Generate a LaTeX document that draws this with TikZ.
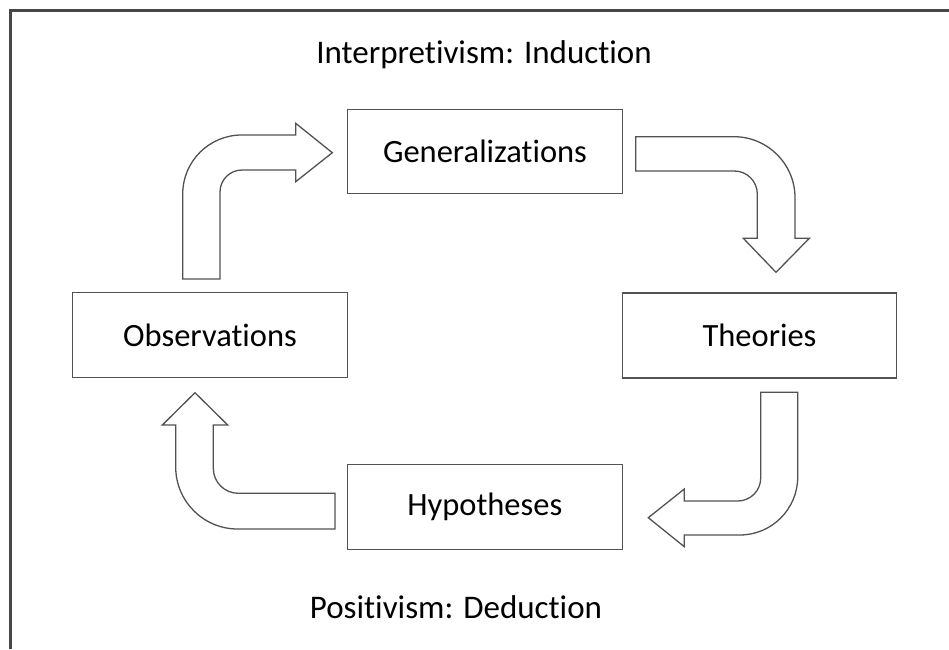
\documentclass[tikz,border=0pt]{standalone}
\usepackage{fontspec}
\setmainfont[Ligatures=NoCommon]{Carlito}
\begin{document}
\begin{tikzpicture}[x=1pt,y=-1pt,
  box/.style={draw=black!68,line width=1.3pt,rectangle,inner sep=0pt,
    font=\fontsize{32.5}{38}\selectfont},
  bigarrow/.style={draw=black!68,line width=1.3pt,fill=white,line join=miter},
  title/.style={font=\fontsize{33}{38}\selectfont,inner sep=0pt}]
\useasboundingbox (0,0) rectangle (949,649);
% frame
\draw[black!72,line width=2.2pt] (10.5,649) -- (10.5,10.5) -- (949,10.5);
% titles
\node[title] (ind) at (484,55) {Interpretivism: Induction};
\node[title] (ded) at (456,607) {Positivism: Deduction};
% boxes
\node[box,minimum width=275pt,minimum height=84pt] (gen) at (485,151.2) {Generalizations};
\node[box,minimum width=275pt,minimum height=85pt] (obs) at (210,335.2) {Observations};
\node[box,minimum width=274pt,minimum height=85pt] (the) at (759.5,335.5) {Theories};
\node[box,minimum width=275pt,minimum height=85pt] (hyp) at (484.8,506.8) {Hypotheses};
% arrow: observations -> generalizations
\draw[bigarrow] (182.7,279) -- (182.7,194) arc[start angle=180,end angle=270,radius=59]
  -- (295.7,135) -- (295.7,123.3) -- (332.3,152.7) -- (295.7,181.7) -- (295.7,170)
  -- (242,170) arc[start angle=270,end angle=180,radius=22] -- (220,279) -- cycle;
% arrow: generalizations -> theories
\draw[bigarrow] (635.7,136.7) -- (734,136.7) arc[start angle=270,end angle=360,radius=61]
  -- (795,238.3) -- (809.3,238.3) -- (776,272.3) -- (743.3,238.3) -- (757.3,238.3)
  -- (757.3,194) arc[start angle=0,end angle=-90,radius=23] -- (635.7,171) -- cycle;
% arrow: theories -> hypotheses
\draw[bigarrow] (760.7,392.3) -- (797.7,392.3) -- (797.7,477) arc[start angle=0,end angle=90,radius=58]
  -- (684.3,535) -- (684.3,546.7) -- (648.3,517.7) -- (684.3,489) -- (684.3,501)
  -- (737.7,501) arc[start angle=90,end angle=0,radius=23] -- cycle;
% arrow: hypotheses -> observations
\draw[bigarrow] (175.7,425) -- (175.7,467) arc[start angle=180,end angle=90,radius=62]
  -- (335,529) -- (335,493.3) -- (238.3,493.3) arc[start angle=90,end angle=180,radius=25]
  -- (213.3,425) -- (227.7,425) -- (195,392.7) -- (162.3,425) -- cycle;
\end{tikzpicture}
\end{document}
